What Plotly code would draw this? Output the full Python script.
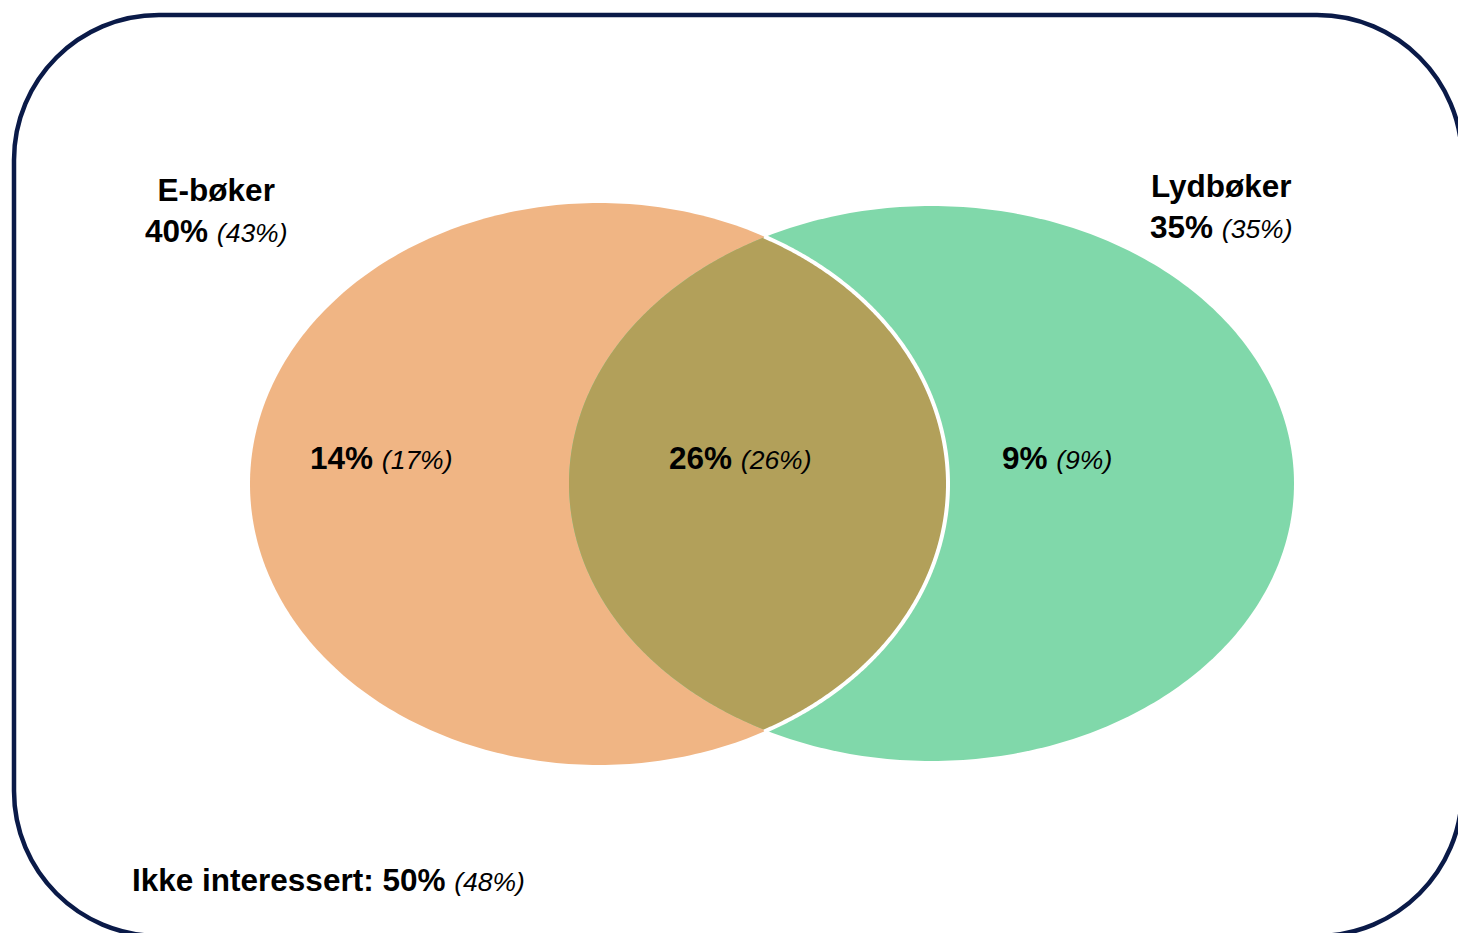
import numpy as np
import plotly.graph_objects as go

# ---- data ----
set_names = ["E-bøker", "Lydbøker"]
set_share = [40, 35]
set_share_prev = [43, 35]
region_names = ["Kun E-bøker", "Begge", "Kun Lydbøker"]
region_share = [14, 26, 9]
region_share_prev = [17, 26, 9]
not_interested_label = "Ikke interessert"
not_interested = 50
not_interested_prev = 48

# ---- layout / geometry (pixel space of the page) ----
W, H = 1458, 933
ORANGE = "#F0B584"
GREEN = "#80D8AA"
OLIVE = "#B2A05A"
NAVY = "#0A1A48"
FONT = "Liberation Sans, Arial, sans-serif"
BIG = 31.5
SMALL = 26.5

ell_o = dict(cx=599, cy=484, rx=349, ry=281)
ell_g = dict(cx=931.5, cy=483.5, rx=362.5, ry=277.5)


def ellipse_path(e, n=360):
    t = np.linspace(0, 2 * np.pi, n, endpoint=False)
    xs = e["cx"] + e["rx"] * np.cos(t)
    ys = e["cy"] + e["ry"] * np.sin(t)
    pts = " L".join(f"{x:.2f},{y:.2f}" for x, y in zip(xs, ys))
    return "M" + pts + " Z"


def half_heights(e, x):
    u = np.clip((x - e["cx"]) / e["rx"], -1, 1)
    h = e["ry"] * np.sqrt(1 - u ** 2)
    return e["cy"] - h, e["cy"] + h


# intersection region
x_left = ell_g["cx"] - ell_g["rx"]
x_right = ell_o["cx"] + ell_o["rx"]
s = np.linspace(0, np.pi, 400)
xs = (x_left + x_right) / 2 - (x_right - x_left) / 2 * np.cos(s)
to, bo = half_heights(ell_o, xs)
tg, bg = half_heights(ell_g, xs)
top = np.maximum(to, tg)
bot = np.minimum(bo, bg)
px = np.concatenate([xs, xs[::-1]])
py = np.concatenate([top, bot[::-1]])
inter_path = "M" + " L".join(f"{x:.2f},{y:.2f}" for x, y in zip(px, py)) + " Z"

# white arc: orange boundary inside green
t = np.linspace(-np.pi / 2, np.pi / 2, 600)
ax_ = ell_o["cx"] + ell_o["rx"] * np.cos(t)
ay_ = ell_o["cy"] + ell_o["ry"] * np.sin(t)
gt, gb = half_heights(ell_g, ax_)
mask = (ay_ >= gt - 2) & (ay_ <= gb + 2) & (ax_ >= x_left)
arc_path = "M" + " L".join(f"{x:.2f},{y:.2f}" for x, y in zip(ax_[mask], ay_[mask]))

# rounded rectangle frame
L, T, R, B, r = 14, 15, 1462, 936, 145
k = 0.5523 * r
frame = (
    f"M{L + r},{T} L{R - r},{T} C{R - r + k},{T} {R},{T + r - k} {R},{T + r} "
    f"L{R},{B - r} C{R},{B - r + k} {R - r + k},{B} {R - r},{B} "
    f"L{L + r},{B} C{L + r - k},{B} {L},{B - r + k} {L},{B - r} "
    f"L{L},{T + r} C{L},{T + r - k} {L + r - k},{T} {L + r},{T} Z"
)

shapes = [
    dict(type="path", path=ellipse_path(ell_o), fillcolor=ORANGE, line=dict(width=0)),
    dict(type="path", path=ellipse_path(ell_g), fillcolor=GREEN, line=dict(width=0)),
    dict(type="path", path=inter_path, fillcolor=OLIVE, line=dict(width=0)),
    dict(type="path", path=arc_path, line=dict(color="white", width=4)),
    dict(type="path", path=frame, line=dict(color=NAVY, width=4.5), fillcolor="rgba(0,0,0,0)"),
]


def lab(v, p):
    return f"<b>{v}%</b> <span style='font-size:{SMALL}px'><i>({p}%)</i></span>"


annotations = []
set_pos = [(216, 210), (1221, 206)]
for name, v, p, (x, y) in zip(set_names, set_share, set_share_prev, set_pos):
    annotations.append(dict(x=x, y=y, text=f"<b>{name}</b><br>{lab(v, p)}",
                            showarrow=False, xanchor="center", yanchor="middle"))
reg_pos = [(381, 458), (740, 458), (1057, 458)]
for v, p, (x, y) in zip(region_share, region_share_prev, reg_pos):
    annotations.append(dict(x=x, y=y, text=lab(v, p), showarrow=False,
                            xanchor="center", yanchor="middle"))
annotations.append(dict(
    x=130, y=880,
    text=f"<b>{not_interested_label}: {not_interested}%</b> "
         f"<span style='font-size:{SMALL}px'><i>({not_interested_prev}%)</i></span>",
    showarrow=False, xanchor="left", yanchor="middle"))

fig = go.Figure()
fig.update_layout(
    width=W, height=H,
    margin=dict(l=0, r=0, t=0, b=0),
    paper_bgcolor="white", plot_bgcolor="white",
    xaxis=dict(range=[0, W], visible=False, fixedrange=True),
    yaxis=dict(range=[H, 0], visible=False, fixedrange=True),
    shapes=shapes,
    annotations=annotations,
    font=dict(family=FONT, size=BIG, color="black"),
    showlegend=False,
)
fig.write_html(
    "out.html",
    config=dict(displayModeBar=False),
    post_script="document.body.style.margin='0';document.body.style.overflow='hidden';",
)
